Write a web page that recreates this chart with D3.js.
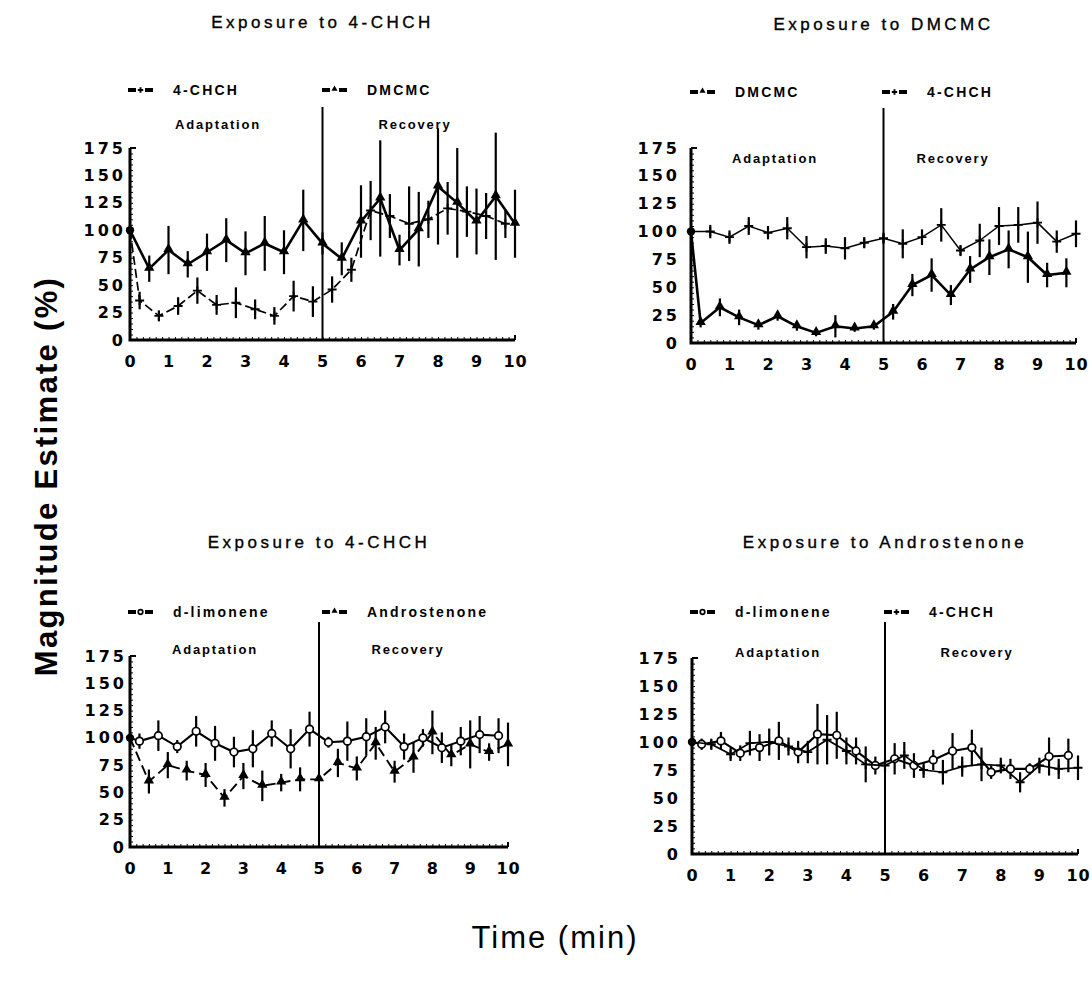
<!DOCTYPE html>
<html lang="en">
<head>
  <meta charset="UTF-8">
  <title>Magnitude Estimate</title>
  <style>
    body { margin: 0; background: #fff; }
    .title { font-family: "Liberation Sans", Arial, sans-serif; font-size: 17px; letter-spacing: 3.5px; stroke: #000; stroke-width: 0.35px; }
    .legend, .phase { font-family: "Liberation Sans", Arial, sans-serif; font-weight: bold; font-size: 13px; letter-spacing: 1.8px; }
    .legend { font-size: 14px; letter-spacing: 2.2px; }
    .tick text { font-family: "DejaVu Sans", sans-serif; font-weight: bold; font-size: 16px; fill: #000; }
    .ylab .tick text { letter-spacing: 3px; }
    .xlab .tick text { letter-spacing: 1px; }
    .big { font-family: "Liberation Sans", Arial, sans-serif; font-size: 31px; }
  </style>
</head>
<body>
  <script src="https://d3js.org/d3.v7.min.js"></script>
  <script>
    // time points (min): second compound every 30 s, first compound shifted by 15 s
    const tHalf = [0, 0.5, 1, 1.5, 2, 2.5, 3, 3.5, 4, 4.5, 5, 5.5, 6, 6.5, 7, 7.5, 8, 8.5, 9, 9.5, 10];
    const tQuarter = [0, 0.25, 0.75, 1.25, 1.75, 2.25, 2.75, 3.25, 3.75, 4.25, 4.75, 5.25, 5.75, 6.25, 6.75, 7.25, 7.75, 8.25, 8.75, 9.25, 9.75];

    const yTicks = [0, 25, 50, 75, 100, 125, 150, 175];
    const xTicks = [0, 1, 2, 3, 4, 5, 6, 7, 8, 9, 10];

    // panel A : exposure to 4-CHCH
    const aDmcmc = [100, 65, 82, 69, 80, 91, 79, 88, 80, 109, 88, 74, 108, 129, 82, 101, 140, 125, 108, 131, 106];
    const aDmcmcErr = [0, 12, 22, 12, 17, 20, 20, 25, 20, 28, 10, 15, 33, 53, 14, 34, 53, 50, 30, 58, 31];
    const aChch = [100, 36, 22, 31, 45, 32, 34, 28, 22, 40, 35, 46, 64, 118, 113, 106, 110, 120, 117, 113, 106];
    const aChchErr = [0, 8, 5, 8, 12, 9, 14, 9, 8, 14, 14, 12, 11, 27, 20, 34, 17, 24, 23, 21, 13];

    // panel B : exposure to DMCMC
    const bDmcmc = [100, 18, 32, 23, 16, 24, 15, 9, 15, 13, 15, 28, 52, 61, 43, 66, 77, 84, 77, 61, 63];
    const bDmcmcErr = [0, 4, 8, 7, 4, 4, 4, 3, 10, 3, 3, 7, 10, 15, 9, 12, 16, 17, 23, 11, 13];
    const bChch = [100, 100, 95, 105, 99, 103, 86, 87, 85, 90, 94, 89, 95, 106, 83, 92, 105, 106, 108, 91, 98];
    const bChchErr = [0, 6, 6, 8, 6, 10, 10, 7, 10, 5, 5, 13, 7, 15, 5, 15, 17, 16, 19, 10, 12];

    // panel C : exposure to 4-CHCH
    const cLimo = [100, 97, 102, 92, 106, 95, 87, 90, 104, 90, 108, 96, 97, 101, 110, 92, 100, 91, 97, 103, 102];
    const cLimoErr = [0, 7, 14, 6, 14, 16, 14, 17, 12, 18, 16, 5, 18, 17, 15, 12, 8, 14, 13, 17, 16];
    const cAndro = [100, 60, 75, 70, 66, 45, 65, 56, 59, 62, 62, 77, 72, 95, 69, 82, 105, 84, 94, 87, 94];
    const cAndroErr = [0, 11, 12, 9, 11, 8, 12, 14, 8, 11, 0, 13, 11, 15, 10, 14, 20, 10, 22, 8, 20];

    // panel D : exposure to Androstenone
    const dLimo = [100, 98, 101, 90, 95, 101, 91, 107, 106, 92, 79, 85, 79, 84, 92, 95, 73, 76, 76, 87, 88];
    const dLimoErr = [0, 5, 8, 7, 12, 17, 10, 27, 21, 12, 8, 14, 11, 9, 16, 16, 6, 9, 5, 17, 15];
    const dChch = [100, 98, 89, 99, 100, 96, 91, 102, 92, 80, 79, 88, 75, 73, 78, 80, 79, 64, 79, 76, 77];
    const dChchErr = [0, 5, 6, 11, 12, 8, 10, 22, 12, 16, 6, 12, 7, 11, 9, 15, 7, 9, 7, 9, 11];

    const W = 1092, H = 985;
    const svg = d3.select('body').append('svg').attr('width', W).attr('height', H);

    const mk = (t, v, e) => t.map((d, i) => ({ t: d, v: v[i], e: e[i] }));

    const panels = [
      { title: 'Exposure to 4-CHCH', x0: 130, x1: 515, y0: 340, y1: 148, titleY: 28, legendY: 90, lineTop: 107, phaseY: 129,
        adaptX: 218, recovX: 415, labGap: 4,
        series: [
          { name: '4-CHCH', mark: 'cross', data: mk(tQuarter, aChch, aChchErr), w: 1.7, dash: '9,4', lx: 128 },
          { name: 'DMCMC', mark: 'tri', data: mk(tHalf, aDmcmc, aDmcmcErr), w: 2.6, dash: null, lx: 322 }
        ] },
      { title: 'Exposure to DMCMC', x0: 691, x1: 1076, y0: 343, y1: 148, titleY: 30, legendY: 92, lineTop: 108, phaseY: 163,
        adaptX: 775, recovX: 953, labGap: 11,
        series: [
          { name: 'DMCMC', mark: 'tri', data: mk(tQuarter, bDmcmc, bDmcmcErr), w: 2.6, dash: null, lx: 690 },
          { name: '4-CHCH', mark: 'cross', data: mk(tHalf, bChch, bChchErr), w: 1.5, dash: null, lx: 882 }
        ] },
      { title: 'Exposure to 4-CHCH', x0: 130, x1: 508, y0: 847, y1: 656, titleY: 548, legendY: 612, lineTop: 622, phaseY: 654,
        adaptX: 215, recovX: 408, labGap: 3,
        series: [
          { name: 'd-limonene', mark: 'circle', data: mk(tQuarter, cLimo, cLimoErr), w: 2.1, dash: null, lx: 128 },
          { name: 'Androstenone', mark: 'tri', data: mk(tHalf, cAndro, cAndroErr), w: 1.9, dash: '10,5', lx: 322 }
        ] },
      { title: 'Exposure to Androstenone', x0: 692, x1: 1078, y0: 854, y1: 658, titleY: 548, legendY: 612, lineTop: 622, phaseY: 657,
        adaptX: 778, recovX: 977, labGap: 11,
        series: [
          { name: 'd-limonene', mark: 'circle', data: mk(tQuarter, dLimo, dLimoErr), w: 2.1, dash: null, lx: 690 },
          { name: '4-CHCH', mark: 'cross', data: mk(tHalf, dChch, dChchErr), w: 1.7, dash: null, lx: 884 }
        ] }
    ];

    function marker(sel, type, cx, cy, scale) {
      if (type === 'tri') {
        sel.append('path')
          .attr('d', d3.symbol(d3.symbolTriangle, 46 * scale * scale)())
          .attr('transform', `translate(${cx},${cy - 1})`)
          .attr('fill', '#000');
      } else if (type === 'circle') {
        sel.append('circle').attr('cx', cx).attr('cy', cy).attr('r', 3.8 * scale)
          .attr('fill', '#fff').attr('stroke', '#000').attr('stroke-width', 1.7);
      } else {
        const h = 4.5 * scale;
        sel.append('path')
          .attr('d', `M${cx - h},${cy}H${cx + h}M${cx},${cy - h}V${cy + h}`)
          .attr('stroke', '#000').attr('stroke-width', 1.9);
      }
    }

    panels.forEach(p => {
      const x = d3.scaleLinear().domain([0, 10]).range([p.x0, p.x1]);
      const y = d3.scaleLinear().domain([0, 175]).range([p.y0, p.y1]);
      const g = svg.append('g');
      const mid = (p.x0 + p.x1) / 2;

      g.append('text').attr('class', 'title').attr('x', mid).attr('y', p.titleY)
        .attr('text-anchor', 'middle').text(p.title);

      // legend
      p.series.forEach(s => {
        const lg = g.append('g');
        lg.append('rect').attr('x', s.lx).attr('y', p.legendY - 2).attr('width', 8).attr('height', 4).attr('fill', '#000');
        lg.append('rect').attr('x', s.lx + 17).attr('y', p.legendY - 2).attr('width', 8).attr('height', 4).attr('fill', '#000');
        marker(lg, s.mark, s.lx + 12.5, p.legendY, 0.6);
        lg.append('text').attr('class', 'legend').attr('x', s.lx + 45).attr('y', p.legendY + 5).text(s.name);
      });

      g.append('text').attr('class', 'phase').attr('x', p.adaptX).attr('y', p.phaseY)
        .attr('text-anchor', 'middle').text('Adaptation');
      g.append('text').attr('class', 'phase').attr('x', p.recovX).attr('y', p.phaseY)
        .attr('text-anchor', 'middle').text('Recovery');

      // minor ticks
      g.append('g').attr('transform', `translate(${p.x0},0)`)
        .call(d3.axisRight(y).tickValues(d3.range(0, 176, 5)).tickSize(3).tickFormat(''))
        .call(a => a.select('.domain').remove());
      g.append('g').attr('transform', `translate(0,${p.y0})`)
        .call(d3.axisTop(x).tickValues(d3.range(0, 10.01, 1 / 6)).tickSize(3).tickFormat(''))
        .call(a => a.select('.domain').remove());

      // major labels
      g.append('g').attr('class', 'ylab').attr('transform', `translate(${p.x0 - p.labGap},0)`)
        .call(d3.axisLeft(y).tickValues(yTicks).tickSize(0).tickPadding(0))
        .call(a => a.select('.domain').remove());
      g.append('g').attr('class', 'xlab').attr('transform', `translate(0,${p.y0 + 16})`)
        .call(d3.axisBottom(x).tickValues(xTicks).tickSize(0).tickPadding(0))
        .call(a => a.select('.domain').remove());

      // axis lines
      g.append('path').attr('d', `M${p.x0},${p.y1}V${p.y0}H${p.x1}`)
        .attr('fill', 'none').attr('stroke', '#000').attr('stroke-width', 3);
      g.append('path').attr('d', `M${p.x0},${p.y1}h6`).attr('stroke', '#000').attr('stroke-width', 2);
      g.append('path').attr('d', `M${p.x1},${p.y0}v-5`).attr('stroke', '#000').attr('stroke-width', 2);

      // phase divider at 5 min
      g.append('line').attr('x1', x(5)).attr('x2', x(5)).attr('y1', p.y0).attr('y2', p.lineTop)
        .attr('stroke', '#000').attr('stroke-width', 2);

      const line = d3.line().x(d => x(d.t)).y(d => y(d.v));

      p.series.forEach(s => {
        const sg = g.append('g');
        sg.selectAll('line.err').data(s.data.filter(d => d.e > 0)).enter().append('line')
          .attr('x1', d => x(d.t)).attr('x2', d => x(d.t))
          .attr('y1', d => y(d.v - d.e)).attr('y2', d => y(d.v + d.e))
          .attr('stroke', '#000').attr('stroke-width', 2.2);
        sg.append('path').datum(s.data).attr('d', line)
          .attr('fill', 'none').attr('stroke', '#000').attr('stroke-width', s.w)
          .attr('stroke-dasharray', s.dash);
        s.data.slice(1).forEach(d => marker(sg, s.mark, x(d.t), y(d.v), 1));
      });

      // shared start point
      g.append('circle').attr('cx', x(0)).attr('cy', y(100)).attr('r', 4.2).attr('fill', '#000');
    });

    svg.append('text').attr('class', 'big').attr('font-weight', 'bold')
      .attr('transform', 'translate(57,476) rotate(-90)').attr('text-anchor', 'middle')
      .attr('letter-spacing', 2.3).attr('font-size', 32).text('Magnitude Estimate (%)');
    svg.append('text').attr('class', 'big').attr('x', 555).attr('y', 948)
      .attr('text-anchor', 'middle').attr('letter-spacing', 2).text('Time (min)');
  </script>
</body>
</html>
